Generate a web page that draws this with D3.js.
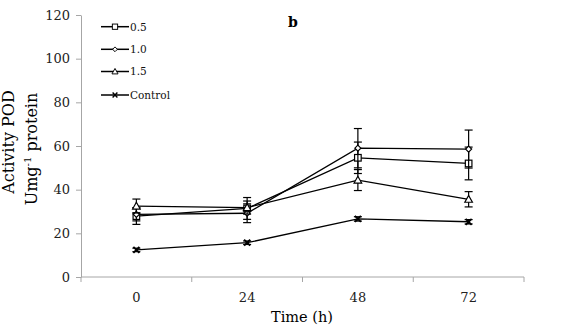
<!DOCTYPE html>
<html><head><meta charset="utf-8">
<script src="https://cdn.jsdelivr.net/npm/d3@7"></script>
<style>body{margin:0;background:#fff}svg{display:block}</style>
</head><body>
<svg id="c" width="576" height="336"></svg>
<script>
const categories = ["0", "24", "48", "72"];
const seriesNames = ["0.5", "1.0", "1.5", "Control"];
const markers = ["square", "diamond", "triangle", "cross"];
const s05 = [27.9, 31.4, 54.6, 52.0];
const s10 = [28.7, 29.2, 59.0, 58.6];
const s15 = [32.5, 31.8, 44.4, 35.6];
const sCtl = [12.4, 15.7, 26.6, 25.3];
const e05 = [3.8, 5.0, 7.2, 7.5];
const e10 = [3.0, 4.3, 9.0, 8.7];
const e15 = [3.2, 3.0, 4.8, 3.5];
const eCtl = [0.8, 0.8, 1.0, 1.0];
const yTicks = [0, 20, 40, 60, 80, 100, 120];

const values = [s05, s10, s15, sCtl];
const errors = [e05, e10, e15, eCtl];

const svg = d3.select("#c");
const serif = "'DejaVu Serif', serif";
const axisCol = "#a6a6a6";

const x = d3.scaleBand().domain(categories).range([81, 524]);
const y = d3.scaleLinear().domain([0, 120]).range([277, 15]);

// y axis
const ya = svg.append("g").attr("transform", "translate(81,0)")
  .call(d3.axisLeft(y).tickValues(yTicks).tickSize(5).tickPadding(6).tickSizeOuter(0));
ya.select(".domain").attr("stroke", axisCol);
ya.selectAll(".tick line").attr("stroke", axisCol);
ya.selectAll("text").attr("font-family", serif).attr("font-size", 13).attr("fill", "#222");

// x axis
const xa = svg.append("g").attr("transform", "translate(0,277)")
  .call(d3.axisBottom(x).tickSize(0).tickPadding(16));
xa.select(".domain").attr("stroke", axisCol).attr("d", "M81,0H524");
xa.selectAll("text").attr("font-family", serif).attr("font-size", 13).attr("fill", "#222");
const bounds = categories.map(c => x(c)).concat([x(categories[categories.length-1]) + x.bandwidth()]);
xa.selectAll(".bnd").data(bounds).enter().append("line")
  .attr("x1", d => d).attr("x2", d => d).attr("y1", 0).attr("y2", 5).attr("stroke", axisCol);

const cx = c => x(c) + x.bandwidth() / 2;

function drawMarker(g, type, px, py) {
  if (type === "square") {
    g.append("rect").attr("x", px - 3.3).attr("y", py - 3.3).attr("width", 6.6).attr("height", 6.6)
      .attr("fill", "#fff").attr("stroke", "#000").attr("stroke-width", 1.2);
  } else if (type === "diamond") {
    g.append("path").attr("d", `M${px},${py-3}L${px+3},${py}L${px},${py+3}L${px-3},${py}Z`)
      .attr("fill", "#fff").attr("stroke", "#000").attr("stroke-width", 1.2);
  } else if (type === "triangle") {
    g.append("path").attr("d", `M${px},${py-3.8}L${px+3.8},${py+3}L${px-3.8},${py+3}Z`)
      .attr("fill", "#fff").attr("stroke", "#000").attr("stroke-width", 1.2);
  } else {
    g.append("path").attr("d", `M${px-3},${py-3}L${px+3},${py+3}M${px+3},${py-3}L${px-3},${py+3}`)
      .attr("stroke", "#000").attr("stroke-width", 1.8);
  }
}

const line = d3.line().x((d, i) => cx(categories[i])).y(d => y(d));

values.forEach((vals, si) => {
  const g = svg.append("g");
  vals.forEach((v, i) => {
    const px = cx(categories[i]), e = errors[si][i];
    g.append("line").attr("x1", px).attr("x2", px).attr("y1", y(v + e)).attr("y2", y(v - e))
      .attr("stroke", "#000").attr("stroke-width", 1.2);
    [v + e, v - e].forEach(t => g.append("line").attr("x1", px - 4).attr("x2", px + 4)
      .attr("y1", y(t)).attr("y2", y(t)).attr("stroke", "#000").attr("stroke-width", 1.2));
  });
  g.append("path").attr("d", line(vals)).attr("fill", "none").attr("stroke", "#000").attr("stroke-width", 1.3);
  vals.forEach((v, i) => drawMarker(g, markers[si], cx(categories[i]), y(v)));
});

// legend
const legY = [26.7, 49.3, 71.5, 95];
seriesNames.forEach((n, i) => {
  const g = svg.append("g");
  g.append("line").attr("x1", 101).attr("x2", 129).attr("y1", legY[i]).attr("y2", legY[i])
    .attr("stroke", "#000").attr("stroke-width", 1.5);
  const mk = svg.append("g").attr("transform", `translate(115,${legY[i]}) scale(0.8) translate(-115,${-legY[i]})`);
  drawMarker(mk, markers[i], 115, legY[i]);
  g.append("text").attr("x", 130).attr("y", legY[i] + 3.8).text(n)
    .attr("font-family", serif).attr("font-size", 10.5).attr("fill", "#111");
});

// panel label
svg.append("text").attr("x", 288).attr("y", 27).text("b")
  .attr("font-family", serif).attr("font-weight", "bold").attr("font-size", 14).attr("fill", "#000");

// axis titles
svg.append("text").attr("x", 302).attr("y", 322).attr("text-anchor", "middle").text("Time (h)")
  .attr("font-family", serif).attr("font-size", 14.5).attr("fill", "#000");

const yt = svg.append("text").attr("transform", "translate(14,142) rotate(-90)").attr("text-anchor", "middle")
  .attr("font-family", serif).attr("font-size", 16).attr("fill", "#000");
yt.append("tspan").attr("x", 0).attr("dy", 0).text("Activity POD");
const yt2 = svg.append("text").attr("transform", "translate(37,149) rotate(-90)").attr("text-anchor", "middle")
  .attr("font-family", serif).attr("font-size", 16).attr("fill", "#000");
yt2.append("tspan").text("Umg");
yt2.append("tspan").attr("font-size", 10).attr("dy", -6).text("-1");
yt2.append("tspan").attr("dy", 6).text(" protein");
</script>
</body></html>
